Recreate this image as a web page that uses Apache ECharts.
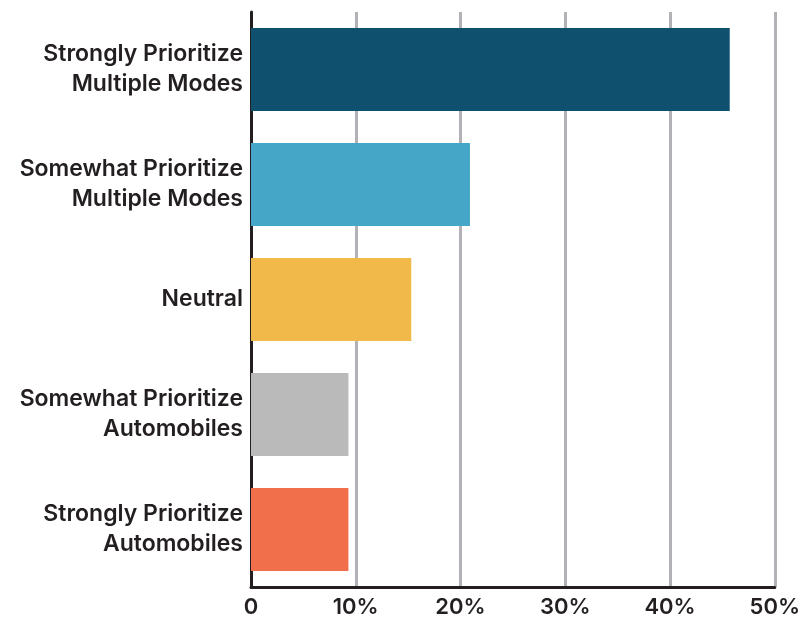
<!DOCTYPE html>
<html><head><meta charset="utf-8">
<script src="https://cdn.jsdelivr.net/npm/echarts@6/dist/echarts.min.js"></script>
<style>html,body{margin:0;padding:0;background:#fff}#c{width:803px;height:621px}</style>
</head><body><div id="c"></div>
<script>
const categories = [
  "Strongly Prioritize\nMultiple Modes",
  "Somewhat Prioritize\nMultiple Modes",
  "Neutral",
  "Somewhat Prioritize\nAutomobiles",
  "Strongly Prioritize\nAutomobiles"
];
const values = [45.7, 20.9, 15.3, 9.3, 9.3];
const colors = ["#0f506e", "#45a6c7", "#f1b94a", "#bababa", "#f26f4b"];
const xTicks = [0, 10, 20, 30, 40, 50];

const chart = echarts.init(document.getElementById('c'), null, {renderer: 'canvas'});
chart.setOption({
  animation: false,
  grid: {left: 251, right: 25, top: 12, bottom: 34, containLabel: false},
  xAxis: {
    type: 'value', min: 0, max: 50, interval: 10,
    axisLine: {show: true, onZero: false, lineStyle: {color: '#231f20', width: 3}},
    axisTick: {show: false},
    splitLine: {show: true, lineStyle: {color: '#b2b1b6', width: 3}},
    axisLabel: {
      color: '#231f20', fontFamily: 'Inter', fontWeight: 600, fontSize: 22, margin: 9,
      formatter: v => xTicks.includes(v) ? (v === 0 ? '0' : v + '%') : ''
    }
  },
  yAxis: {
    type: 'category', data: categories, inverse: true,
    axisLine: {show: true, lineStyle: {color: '#231f20', width: 3}},
    axisTick: {show: false},
    axisLabel: {
      color: '#231f20', fontFamily: 'Inter', fontWeight: 600, fontSize: 23,
      lineHeight: 30, align: 'right', margin: 8
    }
  },
  series: [{
    type: 'bar',
    data: values.map((v, i) => ({value: v, itemStyle: {color: colors[i]}})),
    barCategoryGap: '28%'
  }]
});
</script></body></html>
